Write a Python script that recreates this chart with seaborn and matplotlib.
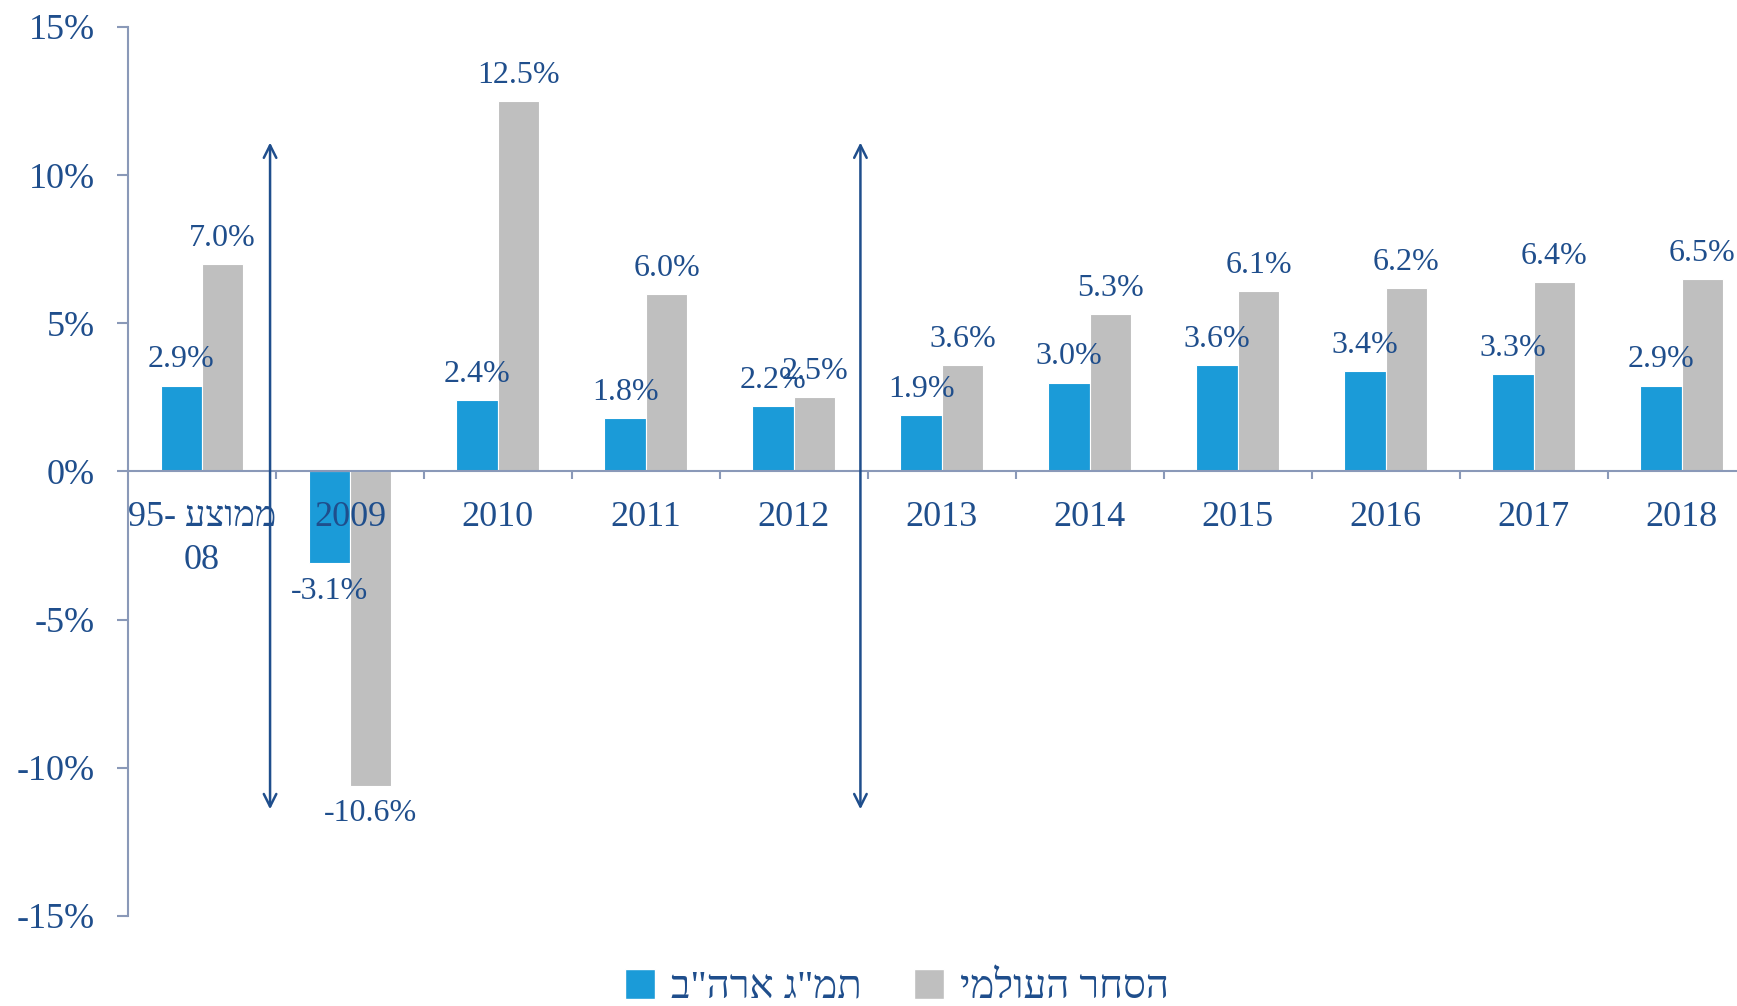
import numpy as np
import pandas as pd
import matplotlib
matplotlib.use("Agg")
import matplotlib.pyplot as plt
from matplotlib.patches import Patch
import seaborn as sns

# data (hebrew strings are stored in visual order: matplotlib has no bidi)
categories = ["95- עצוממ\n08", "2009", "2010", "2011", "2012", "2013",
              "2014", "2015", "2016", "2017", "2018"]
us_gdp = [2.9, -3.1, 2.4, 1.8, 2.2, 1.9, 3.0, 3.6, 3.4, 3.3, 2.9]
world_trade = [7.0, -10.6, 12.5, 6.0, 2.5, 3.6, 5.3, 6.1, 6.2, 6.4, 6.5]
series_names = ['ב"הרא ג"מת', "ימלועה רחסה"]
yticks = [-15, -10, -5, 0, 5, 10, 15]
ytick_labels = ["-15%", "-10%", "-5%", "0%", "5%", "10%", "15%"]
arrow_x = [0.46, 4.45]
arrow_span = (-11.4, 11.1)

blue = "#1B9BD8"
gray = "#BFBFBF"
txt = "#1F4E8C"
axc = "#8A99B8"

sns.set_style("white")
plt.rcParams['font.family'] = ['Liberation Serif', 'DejaVu Sans']

df = pd.DataFrame({
    "cat": categories * 2,
    "val": us_gdp + world_trade,
    "series": [series_names[0]] * len(categories) + [series_names[1]] * len(categories),
})

fig = plt.figure(figsize=(17.37, 10.06), dpi=100)
ax = fig.add_axes([0.0737, 0.0895, 0.937, 0.8837])

sns.barplot(data=df, x="cat", y="val", hue="series", palette=[blue, gray],
            width=0.56, gap=0, edgecolor="white", linewidth=0.8, ax=ax,
            legend=False, order=categories, saturation=1)

ax.set_xlim(-0.5, 10.5)
ax.set_ylim(-15, 15)
ax.set_xlabel("")
ax.set_ylabel("")
ax.set_axisbelow(False)

# data labels
for cont in ax.containers:
    for rect in cont:
        h = rect.get_height()
        xc = rect.get_x() + rect.get_width() / 2
        if h >= 0:
            ax.annotate(f"{h:.1f}%", (xc, h), xytext=(0, 8), textcoords="offset points",
                        ha="center", va="bottom", fontsize=23, color=txt)
        else:
            ax.annotate(f"{h:.1f}%", (xc, h), xytext=(0, -10), textcoords="offset points",
                        ha="center", va="top", fontsize=23, color=txt)

# axes styling
for s in ["top", "right"]:
    ax.spines[s].set_visible(False)
ax.spines["bottom"].set_position(("data", 0))
ax.spines["bottom"].set_color(axc)
ax.spines["left"].set_color(axc)
ax.spines["bottom"].set_linewidth(1.5)
ax.spines["left"].set_linewidth(1.5)

ax.set_yticks(yticks)
ax.set_yticklabels(ytick_labels)
ax.tick_params(axis="y", direction="out", length=8, width=1.5, color=axc,
               labelsize=26, labelcolor=txt, pad=16, left=True)

ax.set_xticks(range(len(categories)))
ax.set_xticklabels(categories, linespacing=1.4)
ax.set_xticks(np.arange(0.5, len(categories), 1), minor=True)
ax.tick_params(axis="x", which="major", length=0, labelsize=26, labelcolor=txt, pad=21)
ax.tick_params(axis="x", which="minor", direction="out", length=6, width=1.5, color=axc, bottom=True)

# double-headed arrows
for xa in arrow_x:
    ax.annotate("", xy=(xa, arrow_span[1]), xytext=(xa, arrow_span[0]),
                arrowprops=dict(arrowstyle="<->,head_length=0.9,head_width=0.45",
                                color=txt, lw=1.8, shrinkA=0, shrinkB=0))

handles = [Patch(facecolor=blue), Patch(facecolor=gray)]
fig.legend(handles, series_names, loc="center", bbox_to_anchor=(897 / 1737, 1 - 988 / 1006),
           ncol=2, frameon=False, fontsize=29, labelcolor=txt, handlelength=0.75,
           handleheight=0.75, handletextpad=0.4, columnspacing=1.3)

plt.savefig("out.png", dpi=100)
